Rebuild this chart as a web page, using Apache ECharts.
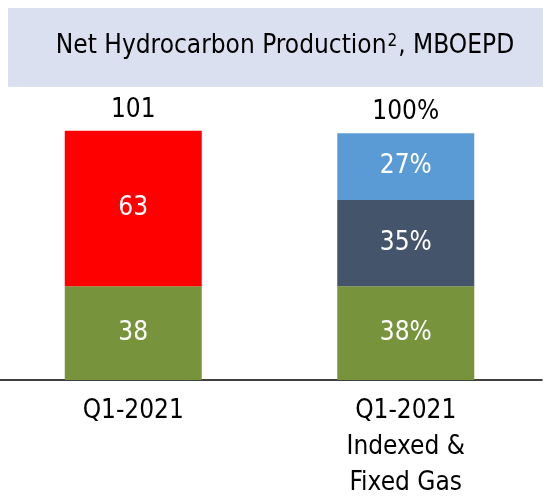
<!DOCTYPE html>
<html>
<head>
<meta charset="utf-8">
<script src="https://cdn.jsdelivr.net/npm/echarts@6/dist/echarts.min.js"></script>
<style>
  html, body { margin: 0; padding: 0; background: #fff; }
  #main { width: 543px; height: 498px; }
</style>
</head>
<body>
<div id="main"></div>
<script>
var FONT = "'Liberation Sans Narrow', 'DejaVu Sans Condensed', 'Roboto', sans-serif";

// 数据
var categories = ['Q1-2021', 'Q1-2021\nIndexed &\nFixed Gas'];
var greenVals = [38, 38];
var redVals = [63, '-'];
var darkVals = ['-', 35];
var blueVals = ['-', 27];
var totals = [101, 100];
var totalLabels = ['101', '100%'];

function inLabel(p) {
    return p.dataIndex === 1 ? p.value + '%' : String(p.value);
}

var insideLabel = {
    show: true,
    position: 'inside',
    color: '#fff',
    fontFamily: FONT,
    fontSize: 26,
    formatter: inLabel
};

var chart = echarts.init(document.getElementById('main'));
chart.setOption({
    animation: false,
    graphic: [
        {
            type: 'rect',
            shape: { x: 8, y: 8, width: 535, height: 79 },
            style: { fill: '#dae0f0' }
        },
        {
            type: 'text',
            x: 285,
            y: 46,
            style: {
                text: '{a|Net Hydrocarbon Production}{s|2}{a|, MBOEPD}',
                align: 'center',
                verticalAlign: 'middle',
                rich: {
                    a: { fontFamily: FONT, fontSize: 26, fill: '#000' },
                    s: { fontFamily: FONT, fontSize: 17, fill: '#000', verticalAlign: 'top', padding: [0, 1, 8, 1] }
                }
            }
        }
    ],
    grid: {
        left: -3,
        width: 545,
        top: 84,
        height: 296,
        outerBoundsMode: 'none',
        containLabel: false
    },
    xAxis: {
        type: 'category',
        data: categories,
        axisLine: { lineStyle: { color: '#000', width: 1.5 } },
        axisTick: { show: false },
        axisLabel: {
            color: '#000',
            fontFamily: FONT,
            fontSize: 26,
            lineHeight: 36,
            margin: 13
        }
    },
    yAxis: {
        type: 'value',
        min: 0,
        max: 120,
        show: false
    },
    series: [
        {
            name: 'green',
            type: 'bar',
            stack: 'prod',
            barWidth: 137,
            itemStyle: { color: '#77933c' },
            label: insideLabel,
            data: greenVals
        },
        {
            name: 'red',
            type: 'bar',
            stack: 'prod',
            barWidth: 137,
            itemStyle: { color: '#ff0000' },
            label: insideLabel,
            data: redVals
        },
        {
            name: 'dark',
            type: 'bar',
            stack: 'prod',
            barWidth: 137,
            itemStyle: { color: '#44546a' },
            label: insideLabel,
            data: darkVals
        },
        {
            name: 'blue',
            type: 'bar',
            stack: 'prod',
            barWidth: 137,
            itemStyle: { color: '#5b9bd5' },
            label: insideLabel,
            data: blueVals
        },
        {
            name: 'total',
            type: 'scatter',
            symbolSize: 0,
            silent: true,
            itemStyle: { opacity: 1 },
            label: {
                show: true,
                position: 'top',
                distance: 8,
                color: '#000',
                fontFamily: FONT,
                fontSize: 26,
                formatter: function (p) { return totalLabels[p.dataIndex]; }
            },
            data: totals
        }
    ]
});
</script>
</body>
</html>
